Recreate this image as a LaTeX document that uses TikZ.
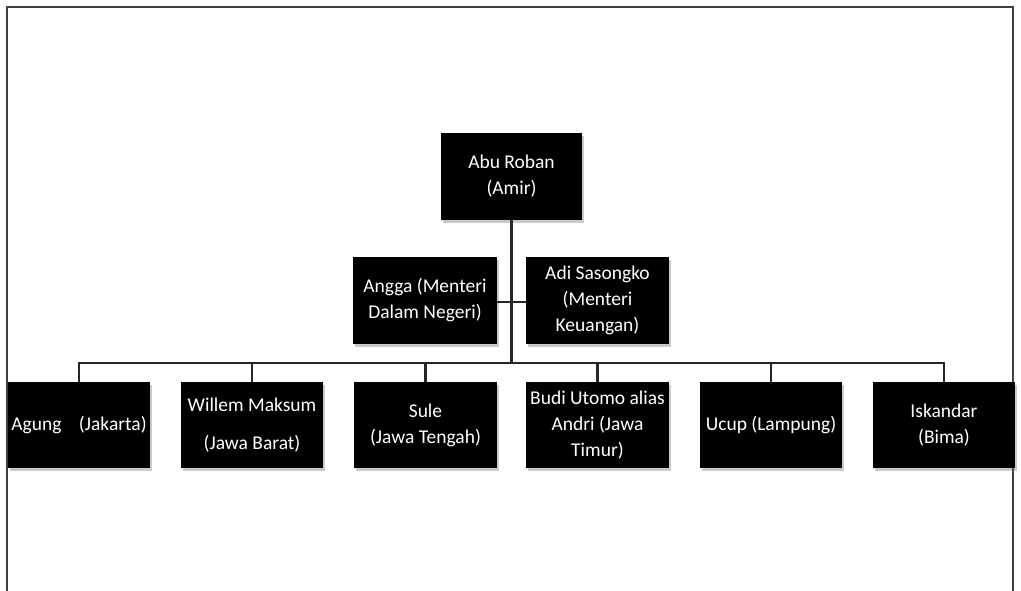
\documentclass[tikz,border=0pt]{standalone}
\usepackage{fontspec}
\setmainfont{Carlito}
\usetikzlibrary{shadows}
\begin{document}
\begin{tikzpicture}[x=1pt,y=-1pt,
  orgbox/.style={fill=black, text=white, inner sep=0pt, align=center,
    font=\fontsize{19.5}{26}\selectfont,
    drop shadow={shadow xshift=2pt, shadow yshift=-3pt, opacity=0.35, fill=black!60}},
  link/.style={draw=black!85, line width=2.4pt},
  frameline/.style={draw=black!75, line width=2.8pt}]
\useasboundingbox (0,0) rectangle (1021,591);
\draw[frameline] (7,591) -- (7,7) -- (1013,7) -- (1013,591);
% connectors (drawn under the boxes)
\coordinate (bus) at (512,363);
\coordinate (abuS) at (512,220);
\coordinate (anggaE) at (497,302);
\coordinate (adiW) at (526,302);
% top
\node[orgbox, minimum width=141pt, minimum height=87pt] (abu) at (511.5,176.5) {Abu Roban\\(Amir)};
\node[orgbox, minimum width=144pt, minimum height=87pt] (angga) at (425,300.5) {Angga (Menteri\\Dalam Negeri)};
\node[orgbox, minimum width=143pt, minimum height=87pt] (adi) at (597.5,300.5) {Adi Sasongko\\(Menteri\\Keuangan)};
% bottom row
\node[orgbox, minimum width=142pt, minimum height=86pt] (agung) at (79,425) {Agung\hspace{0.9em}(Jakarta)};
\node[orgbox, minimum width=142pt, minimum height=86pt] (willem) at (252,425) {Willem Maksum\\[12pt](Jawa Barat)};
\node[orgbox, minimum width=143pt, minimum height=86pt] (sule) at (425.5,425) {Sule\\(Jawa Tengah)};
\node[orgbox, minimum width=143pt, minimum height=86pt] (budi) at (597.5,425) {Budi Utomo alias\\Andri (Jawa\\Timur)};
\node[orgbox, minimum width=142pt, minimum height=86pt] (ucup) at (771,425) {Ucup (Lampung)};
\node[orgbox, minimum width=142pt, minimum height=86pt] (isk) at (944,425) {Iskandar\\(Bima)};
\draw[link] (abu.south) -- (abu.south |- bus);
\draw[link] (angga.east |- anggaE) -- (adi.west |- adiW);
\draw[link] (agung.north) -- (agung.north |- bus) -- (isk.north |- bus) -- (isk.north);
\draw[link] (willem.north) -- (willem.north |- bus);
\draw[link] (sule.north) -- (sule.north |- bus);
\draw[link] (budi.north) -- (budi.north |- bus);
\draw[link] (ucup.north) -- (ucup.north |- bus);
\end{tikzpicture}
\end{document}
